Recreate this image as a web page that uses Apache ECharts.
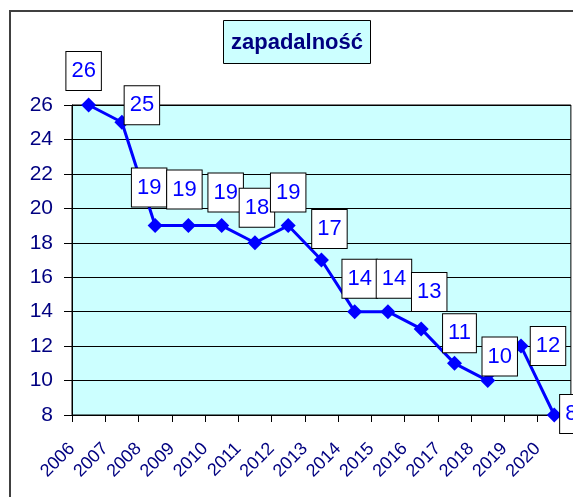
<!DOCTYPE html>
<html lang="pl">
<head>
    <meta charset="UTF-8">
    <title>zapadalność</title>
    <script src="https://cdn.jsdelivr.net/npm/echarts@6/dist/echarts.min.js"></script>
    <style>
        html,body{
            margin: 0;
            padding: 0;
            background: #ffffff;
        }
        #chart{
            width: 573px;
            height: 497px;
        }
    </style>
</head>
<body>
    <div id="chart"></div>
<script>
    // lata i wartości
    var years=["2006","2007","2008","2009","2010","2011","2012","2013","2014","2015","2016","2017","2018","2019","2020"];
    var values=[26,25,19,19,19,18,19,17,14,14,13,11,10,12,8];
    var yTicks={min:8,max:26,step:2};
    // przesunięcia etykiet (jak w Excelu)
    var labelOffsets=[[-5,-34],[20,-17],[-6,-38],[-4,-36],[4,-33],[2,-35],[0,-33],[8,-31],[5,-33],[6,-33],[8,-37],[5,-30],[12,-24],[27,0],[17,-1]];

    var navy='#000080';
    var blue='#0000ff';
    var font='"Liberation Sans", Arial, sans-serif';

    var seriesData=[];
    for(var i=0;i<values.length;i++){
        seriesData.push([i+0.5,values[i]]);
    }

    var chart=echarts.init(document.getElementById('chart'));
    var option={
        animation:false,
        graphic:[
            {
                type:'rect',
                shape:{x:10,y:11,width:620,height:520},
                style:{fill:'none',stroke:'#404040',lineWidth:2},
                z:0
            },
            {
                type:'group',
                left:223,
                top:20,
                children:[
                    {
                        type:'rect',
                        shape:{x:0,y:0,width:147,height:43},
                        style:{fill:'#ccffff',stroke:'#000000',lineWidth:1}
                    },
                    {
                        type:'text',
                        x:73.5,
                        y:22,
                        style:{
                            text:'zapadalność',
                            fill:navy,
                            font:'bold 22px '+font,
                            align:'center',
                            verticalAlign:'middle'
                        }
                    }
                ],
                z:10
            }
        ],
        grid:{
            left:72,
            top:105,
            width:499,
            height:310,
            show:true,
            backgroundColor:'#ccffff',
            borderColor:'#000000',
            borderWidth:1
        },
        xAxis:{
            type:'value',
            min:0,
            max:years.length,
            interval:1,
            axisLine:{show:true,lineStyle:{color:'#000000',width:1}},
            axisTick:{show:true,length:7,inside:false,lineStyle:{color:'#000000'}},
            splitLine:{show:false},
            axisLabel:{
                rotate:45,
                margin:31,
                color:navy,
                fontSize:18,
                fontFamily:font,
                showMaxLabel:true,
                formatter:function(v){
                    return years[v]?years[v]:'';
                }
            }
        },
        yAxis:{
            type:'value',
            min:yTicks.min,
            max:yTicks.max,
            interval:yTicks.step,
            axisLine:{show:true,lineStyle:{color:'#000000',width:1}},
            axisTick:{show:true,length:8,lineStyle:{color:'#000000'}},
            splitLine:{show:true,lineStyle:{color:'#000000',width:1}},
            axisLabel:{
                margin:19,
                color:navy,
                fontSize:21,
                fontFamily:font
            }
        },
        series:[{
            type:'line',
            data:seriesData,
            symbol:'diamond',
            symbolSize:15,
            clip:false,
            lineStyle:{color:blue,width:3},
            itemStyle:{color:blue},
            label:{
                show:true,
                position:'inside',
                color:blue,
                fontSize:22,
                lineHeight:22,
                fontFamily:font,
                backgroundColor:'#ffffff',
                borderColor:'#000000',
                borderWidth:1,
                padding:[8,5,8,5],
                formatter:function(p){
                    return p.value[1];
                }
            },
            labelLayout:function(params){
                var o=labelOffsets[params.dataIndex];
                return {dx:o[0],dy:o[1],hideOverlap:false};
            },
            z:5
        }]
    };
    chart.setOption(option);
</script>
</body>
</html>
